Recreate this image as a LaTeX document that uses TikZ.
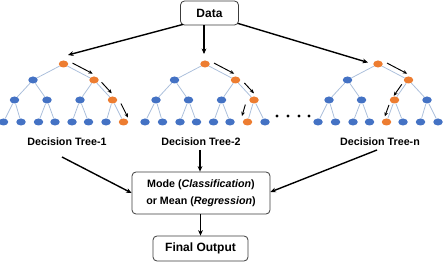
\documentclass[tikz,border=0pt]{standalone}
\usepackage{fontspec}
\setmainfont{Liberation Sans}
\usetikzlibrary{calc,arrows.meta,shapes.geometric}

\definecolor{nodeblue}{HTML}{4472C4}
\definecolor{pathorange}{HTML}{ED7D31}
\definecolor{edgegrey}{HTML}{A9BEDB}
\definecolor{boxline}{HTML}{3C3C3C}

\tikzset{
  treenode/.style={ellipse, minimum width=9.5pt, minimum height=7pt, inner sep=0pt, draw=none},
  treeedge/.style={draw=edgegrey, line width=0.75pt},
  steparrow/.style={draw=black, line width=0.95pt, -{Stealth[length=4.2pt,width=3.6pt]}},
  bigarrow/.style={draw=black, line width=1.4pt, -{Stealth[length=5.5pt,width=4.8pt]}},
  flowbox/.style={draw=boxline, line width=0.8pt, rounded corners=4pt, fill=white,
                  inner sep=0pt, align=center},
  treelabel/.style={font=\fontsize{10.7}{12}\selectfont\bfseries, inner sep=0pt},
  dotnode/.style={circle, fill=black, inner sep=0pt, minimum size=3.2pt}
}

% A complete binary tree of depth 4 (heap numbering 1..15);
% #1 name prefix, #2 centre x, #3 indices of the highlighted path
\newcommand\buildtree[3]{%
  \foreach \i/\dx/\yy in {1/0/64, 2/-30.5/80, 3/30.5/80,
      4/-49/100, 5/-16.5/100, 6/16.5/100, 7/49/100,
      8/-60/122, 9/-42.5/122, 10/-25/122, 11/-8.5/122,
      12/8.5/122, 13/25/122, 14/42.5/122, 15/60/122}{%
    \xdef\nodefill{nodeblue}%
    \foreach \h in {#3}{\ifnum\h=\i\relax\xdef\nodefill{pathorange}\fi}%
    \node[treenode, fill=\nodefill] (#1-\i) at (#2+\dx,\yy) {};
  }
  \foreach \c [evaluate=\c as \p using {int(\c/2)}] in {2,...,15}
    \draw[treeedge] (#1-\p) -- (#1-\c);
}

% Arrow running beside the edge #1 -> #2, from fraction #3 to #4,
% shifted sideways by #5 (side given by angle #6)
\newcommand\pathstep[6]{%
  \draw[steparrow] ($(#1)!#3!(#2)!#5!#6:(#2)$) -- ($(#1)!#4!(#2)!#5!#6:(#2)$);
}

\begin{document}
\begin{tikzpicture}[x=1pt, y=-1pt]
  \path[fill=white] (0,0) rectangle (444,264);
  \useasboundingbox (0,0) rectangle (444,264);

  % boxes
  \node[flowbox, minimum width=58pt, minimum height=24pt,
        font=\fontsize{12}{14}\selectfont\bfseries] (data) at (209.5,13) {Data};
  \node[flowbox, minimum width=138pt, minimum height=42pt,
        font=\fontsize{10.7}{17}\selectfont\bfseries] (mode) at (201,193)
        {Mode (\textit{Classification})\\or Mean (\textit{Regression})};
  \node[flowbox, minimum width=95pt, minimum height=25pt,
        font=\fontsize{12}{14}\selectfont\bfseries] (final) at (200.5,248.5) {Final Output};

  % trees
  \buildtree{t1}{63.5}{1,3,7,15}
  \buildtree{t2}{205}{1,3,7,14}
  \buildtree{tn}{378}{1,3,6,12}

  % decision paths
  \pathstep{t1-1}{t1-3}{0.22}{0.88}{5pt}{90}
  \pathstep{t1-3}{t1-7}{0.25}{0.80}{4pt}{90}
  \pathstep{t1-7}{t1-15}{0.28}{0.92}{6pt}{90}

  \pathstep{t2-1}{t2-3}{0.22}{0.88}{5pt}{90}
  \pathstep{t2-3}{t2-7}{0.30}{0.82}{4.5pt}{90}
  \pathstep{t2-7}{t2-14}{0.30}{0.82}{7pt}{-90}

  \pathstep{tn-1}{tn-3}{0.22}{0.88}{5pt}{90}
  \pathstep{tn-3}{tn-6}{0.30}{0.88}{3pt}{-90}
  \pathstep{tn-6}{tn-12}{0.28}{0.80}{3.5pt}{-90}

  % ellipsis between the trees
  \node[dotnode] (dot1) at (277,116) {};
  \node[dotnode] (dot2) at (288,116) {};
  \node[dotnode] (dot3) at (299,116) {};
  \node[dotnode] (dot4) at (309,116) {};

  % labels
  \node[treelabel] (lab1) at (67,142) {Decision Tree-1};
  \node[treelabel] (lab2) at (201,142) {Decision Tree-2};
  \node[treelabel] (labn) at (380,142) {Decision Tree-n};

  % data to trees
  \coordinate (in1) at ($(t1-1)+(4.5,-9)$);
  \coordinate (in2) at ($(t2-1)+(-1,-10)$);
  \coordinate (inn) at ($(tn-1)+(-10,-1.5)$);
  \draw[bigarrow] ($(data.south west)+(3,-1)$) -- (in1);
  \draw[bigarrow] (data.south -| in2) -- (in2);
  \draw[bigarrow] ($(data.south east)+(-1,-2)$) -- (inn);

  % trees to aggregation
  \coordinate (out1) at ($(lab1)+(-5,15)$);
  \coordinate (out2) at ($(lab2)+(-1,8)$);
  \coordinate (outn) at ($(labn)+(-3,8)$);
  \draw[bigarrow] (out1) -- (mode.west);
  \draw[bigarrow] (out2) -- (out2 |- mode.north);
  \draw[bigarrow] (outn) -- ($(mode.east)+(0,-1)$);

  % aggregation to output
  \draw[bigarrow] (mode.south -| final.north) -- (final.north);
\end{tikzpicture}
\end{document}
